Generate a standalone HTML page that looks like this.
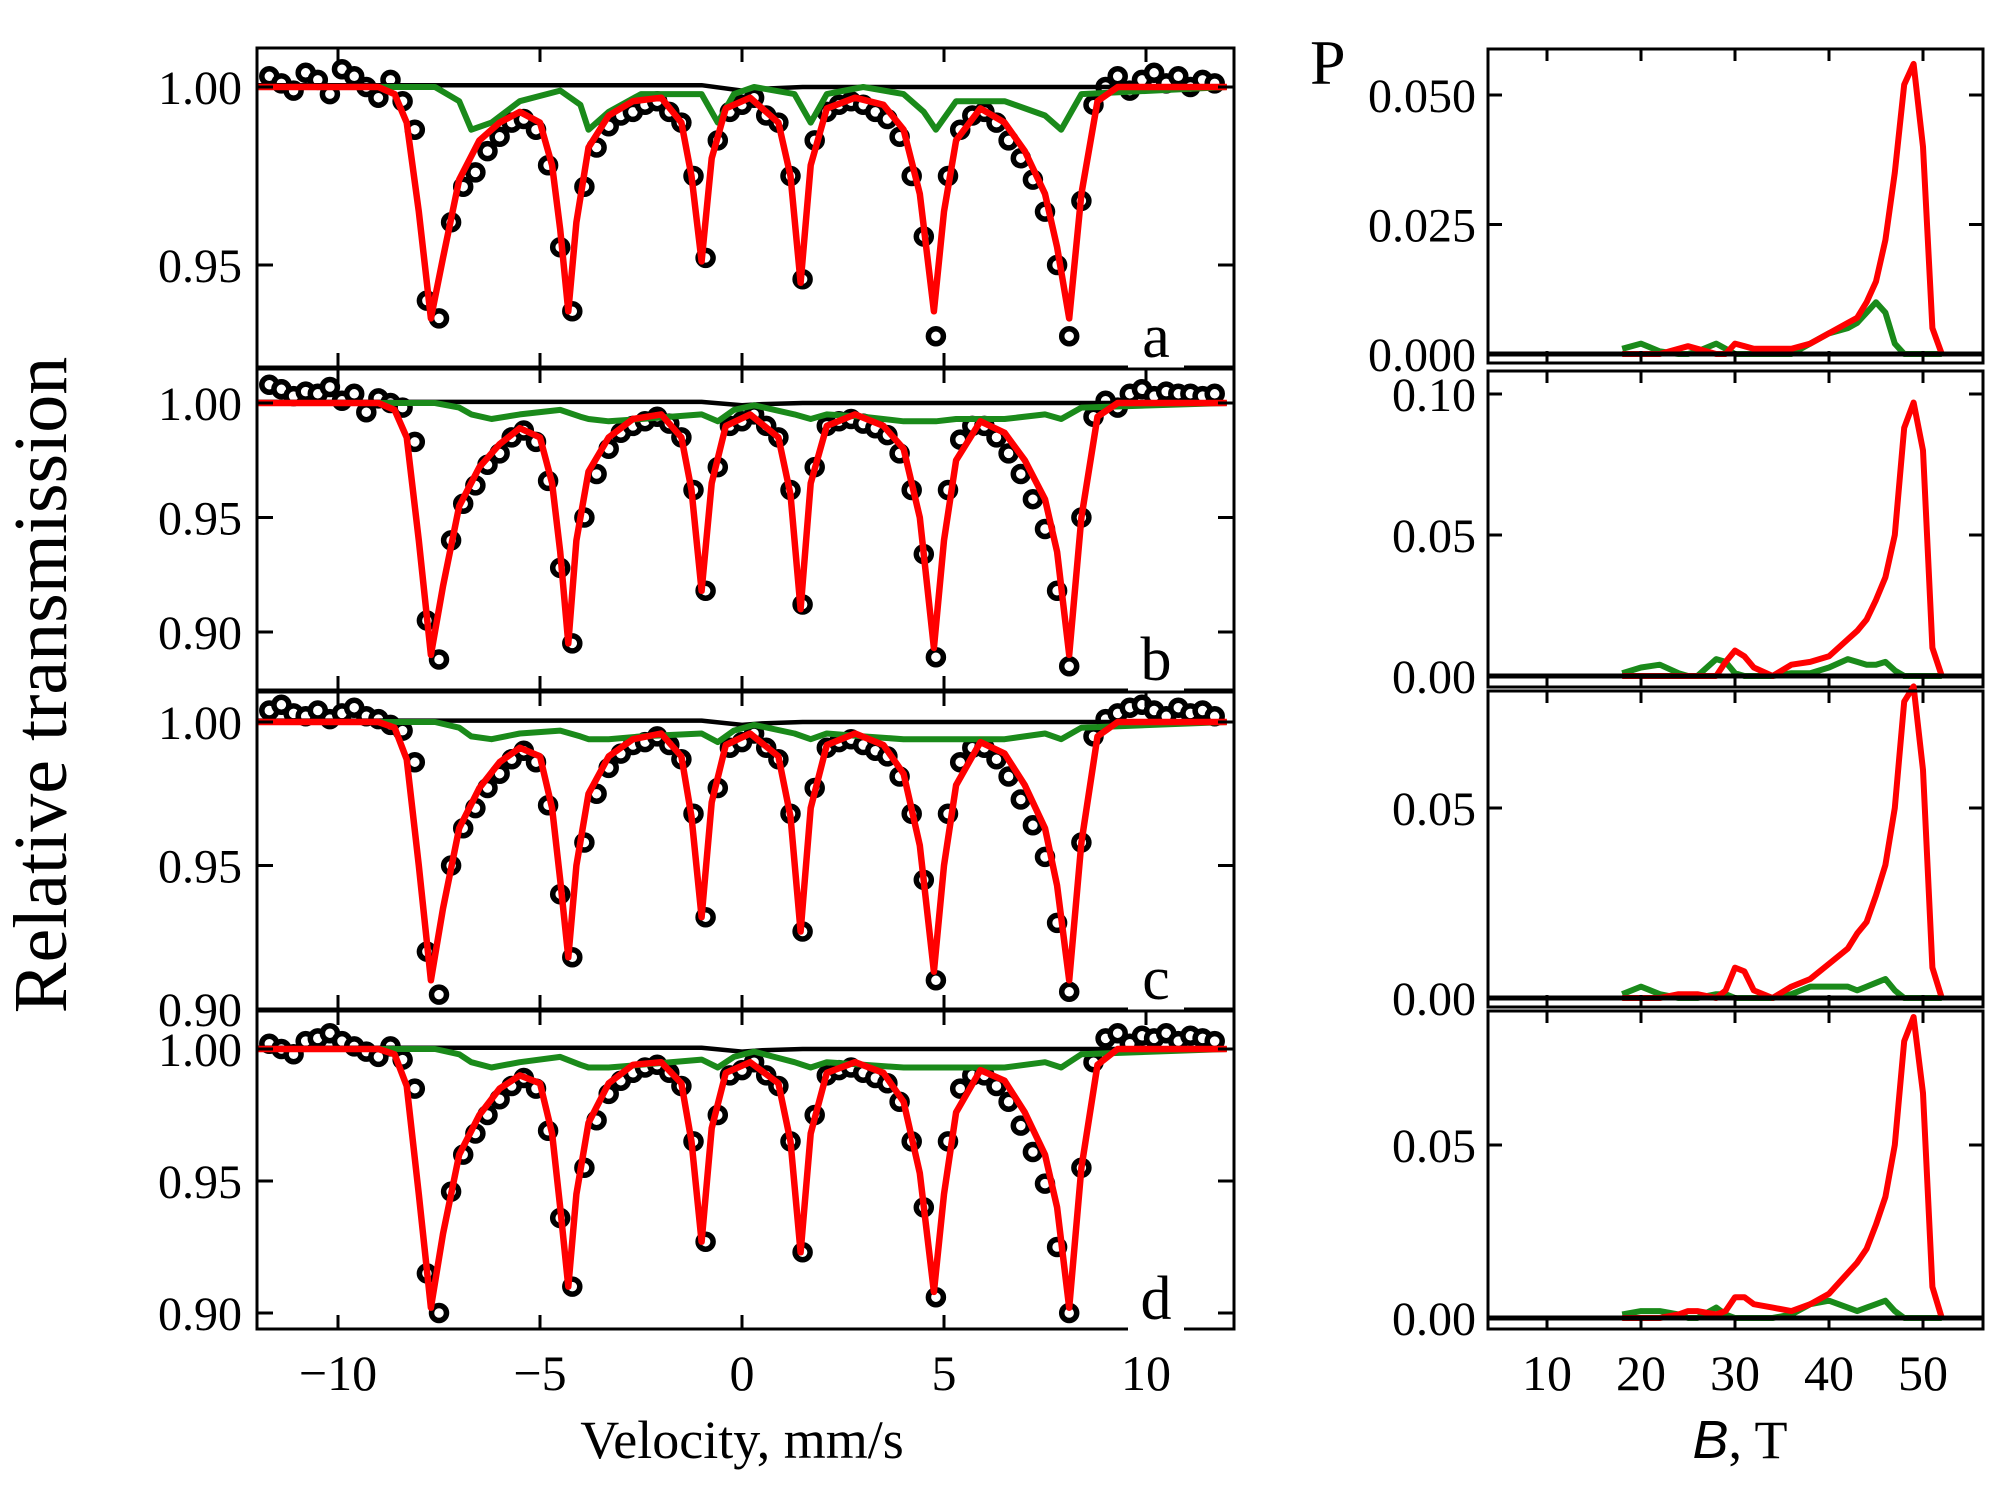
<!DOCTYPE html>
<html><head><meta charset="utf-8"><style>
html,body{margin:0;padding:0;background:#fff}
svg{display:block}
text{font-family:"Liberation Serif",serif;fill:#000}
</style></head><body>
<svg id="chart" width="2006" height="1495" viewBox="0 0 2006 1495" xmlns="http://www.w3.org/2000/svg">
<text x="66" y="685" font-size="76" text-anchor="middle" transform="rotate(-90 66 685)">Relative transmission</text>
<text x="742" y="1458" font-size="54" text-anchor="middle">Velocity, mm/s</text>
<text x="1310" y="84" font-size="64">P</text>
<text x="1740" y="1458" font-size="54" text-anchor="middle"><tspan font-family="Liberation Sans, sans-serif" font-style="italic">B</tspan>, T</text>
</svg>
<script>
const ptX = [];
for (let k = 0; k < 79; k++) ptX.push(-11.7 + 0.3 * k);
const ptA = [1.003,1.001,0.999,1.004,1.002,0.998,1.005,1.003,1.000,0.997,1.002,0.996,0.988,0.940,0.935,0.962,0.972,0.976,0.982,0.986,0.990,0.991,0.988,0.978,0.955,0.937,0.972,0.983,0.989,0.992,0.993,0.995,0.996,0.993,0.990,0.975,0.952,0.985,0.993,0.995,0.997,0.992,0.990,0.975,0.946,0.985,0.993,0.995,0.996,0.995,0.993,0.991,0.986,0.975,0.958,0.930,0.975,0.988,0.992,0.993,0.990,0.985,0.980,0.974,0.965,0.950,0.930,0.968,0.995,1.000,1.003,0.999,1.002,1.004,1.001,1.003,1.000,1.002,1.001];
const ptB = [1.008,1.006,1.003,1.005,1.004,1.007,1.001,1.004,0.996,1.002,1.000,0.998,0.983,0.905,0.888,0.940,0.956,0.964,0.973,0.978,0.985,0.988,0.983,0.966,0.928,0.895,0.950,0.969,0.980,0.987,0.990,0.992,0.994,0.991,0.985,0.962,0.918,0.972,0.990,0.992,0.995,0.990,0.985,0.962,0.912,0.972,0.990,0.992,0.993,0.991,0.989,0.986,0.978,0.962,0.934,0.889,0.962,0.984,0.990,0.990,0.985,0.978,0.969,0.958,0.945,0.918,0.885,0.950,0.994,1.001,0.998,1.004,1.006,1.003,1.005,1.004,1.004,1.003,1.004];
const ptC = [1.004,1.006,1.003,1.002,1.004,1.001,1.003,1.005,1.002,1.001,0.999,0.997,0.986,0.920,0.905,0.950,0.963,0.970,0.977,0.982,0.987,0.990,0.986,0.971,0.940,0.918,0.958,0.975,0.984,0.989,0.992,0.993,0.995,0.992,0.987,0.968,0.932,0.977,0.991,0.993,0.996,0.991,0.987,0.968,0.927,0.977,0.991,0.993,0.994,0.992,0.990,0.988,0.981,0.968,0.945,0.910,0.968,0.986,0.991,0.991,0.987,0.981,0.973,0.964,0.953,0.930,0.906,0.958,0.995,1.001,1.003,1.005,1.006,1.004,1.002,1.005,1.003,1.004,1.002];
const ptD = [1.002,1.000,0.998,1.003,1.004,1.006,1.003,1.001,0.999,0.997,1.001,0.996,0.985,0.915,0.900,0.946,0.960,0.968,0.975,0.981,0.986,0.989,0.985,0.969,0.936,0.910,0.955,0.973,0.983,0.988,0.991,0.993,0.994,0.991,0.986,0.965,0.927,0.975,0.990,0.992,0.995,0.990,0.986,0.965,0.923,0.975,0.990,0.992,0.993,0.991,0.989,0.987,0.980,0.965,0.940,0.906,0.965,0.985,0.990,0.990,0.986,0.980,0.971,0.961,0.949,0.925,0.900,0.955,0.995,1.004,1.006,1.002,1.005,1.004,1.006,1.003,1.005,1.004,1.003];

const fitX = [-12,-9,-8.6,-8.3,-8.0,-7.7,-7.4,-7.0,-6.5,-6.0,-5.5,-5.0,-4.7,-4.5,-4.3,-4.1,-3.8,-3.3,-2.7,-2.0,-1.5,-1.25,-1.0,-0.75,-0.4,0.2,0.9,1.2,1.45,1.7,2.1,2.8,3.5,4.0,4.4,4.75,5.0,5.3,5.9,6.5,7.0,7.5,7.8,8.1,8.4,8.8,9.3,12];
const fitA = [1,1,0.998,0.99,0.965,0.935,0.952,0.974,0.985,0.99,0.993,0.99,0.978,0.96,0.937,0.962,0.983,0.992,0.996,0.997,0.99,0.975,0.951,0.98,0.994,0.997,0.99,0.975,0.945,0.978,0.994,0.997,0.995,0.988,0.97,0.937,0.965,0.985,0.994,0.99,0.982,0.97,0.955,0.935,0.97,0.996,1,1];
const fitB = [1,1,0.997,0.985,0.94,0.89,0.92,0.955,0.972,0.982,0.989,0.985,0.965,0.935,0.895,0.94,0.97,0.985,0.993,0.995,0.985,0.962,0.918,0.965,0.99,0.995,0.985,0.96,0.91,0.965,0.99,0.995,0.99,0.98,0.95,0.893,0.94,0.975,0.992,0.987,0.975,0.958,0.935,0.89,0.95,0.994,1,1];
const fitC = [1,1,0.998,0.987,0.95,0.91,0.935,0.963,0.977,0.986,0.991,0.988,0.97,0.945,0.918,0.95,0.975,0.988,0.994,0.996,0.988,0.967,0.932,0.972,0.992,0.996,0.988,0.967,0.927,0.97,0.992,0.996,0.992,0.982,0.957,0.913,0.95,0.978,0.993,0.989,0.978,0.963,0.943,0.91,0.958,0.995,1,1];
const fitD = [1,1,0.998,0.986,0.945,0.902,0.93,0.96,0.975,0.985,0.99,0.987,0.968,0.94,0.91,0.945,0.972,0.987,0.994,0.995,0.987,0.965,0.927,0.97,0.991,0.995,0.987,0.965,0.923,0.968,0.991,0.995,0.991,0.98,0.953,0.908,0.945,0.976,0.992,0.988,0.976,0.96,0.94,0.902,0.955,0.994,1,1];

const grX = [-12,-7.6,-7.0,-6.7,-6.2,-5.5,-4.5,-4.0,-3.8,-3.3,-2.5,-1.0,-0.6,-0.2,0.3,1.3,1.7,2.1,3.0,4.0,4.5,4.8,5.3,6.5,7.5,7.9,8.4,12];
const grA = [1,1,0.996,0.988,0.99,0.996,0.999,0.995,0.988,0.993,0.998,0.998,0.99,0.998,1.0,0.998,0.99,0.998,1,0.998,0.993,0.988,0.996,0.996,0.992,0.988,0.998,1];
const grB = [1,1,0.998,0.995,0.993,0.995,0.997,0.994,0.993,0.992,0.993,0.995,0.992,0.997,0.999,0.995,0.993,0.995,0.994,0.992,0.992,0.992,0.993,0.993,0.995,0.993,0.998,1];
const grC = [1,1,0.998,0.995,0.994,0.996,0.997,0.995,0.994,0.994,0.995,0.996,0.993,0.997,0.999,0.996,0.994,0.996,0.995,0.994,0.994,0.994,0.994,0.994,0.996,0.994,0.998,1];
const grD = [1,1,0.998,0.995,0.993,0.995,0.997,0.994,0.993,0.993,0.994,0.996,0.993,0.997,0.999,0.995,0.993,0.995,0.994,0.993,0.993,0.993,0.993,0.993,0.995,0.993,0.998,1];

const baseX = [-12,-1,0,0.5,1.5,12];
const baseY = [1.0005,1.0005,0.999,0.9995,1.0,1.0];

const velTicks = [-10,-5,0,5,10];
const velTickLabels = ['\u221210','\u22125','0','5','10'];

const bX = [18,20,22,24,25,26,28,29,30,31,32,34,36,38,40,42,43,44,45,46,47,48,49,50,51,52];
const pRedA = [0,0,0,0.001,0.0015,0.001,0,0,0.002,0.0015,0.001,0.001,0.001,0.002,0.004,0.006,0.007,0.01,0.014,0.022,0.035,0.052,0.056,0.04,0.005,0];
const pGrnA = [0.001,0.002,0.0005,0,0,0.0005,0.002,0.001,0,0,0,0,0,0.002,0.004,0.005,0.006,0.008,0.010,0.008,0.002,0,0,0,0,0];
const pRedB = [0,0,0,0,0,0,0,0.005,0.009,0.007,0.003,0,0.004,0.005,0.007,0.013,0.016,0.02,0.027,0.035,0.05,0.088,0.097,0.08,0.01,0];
const pGrnB = [0.001,0.003,0.004,0.001,0,0,0.006,0.005,0.001,0,0,0,0.001,0.001,0.003,0.006,0.005,0.004,0.004,0.005,0.002,0,0,0,0,0];
const pRedC = [0,0,0,0.001,0.001,0.001,0,0.002,0.008,0.007,0.002,0,0.003,0.005,0.009,0.013,0.017,0.02,0.027,0.035,0.05,0.078,0.082,0.06,0.008,0];
const pGrnC = [0.001,0.003,0.001,0,0,0,0.001,0.001,0,0,0,0,0.001,0.003,0.003,0.003,0.002,0.003,0.004,0.005,0.002,0,0,0,0,0];
const pRedD = [0,0,0,0.001,0.002,0.002,0.001,0.002,0.006,0.006,0.004,0.003,0.002,0.004,0.007,0.013,0.016,0.02,0.027,0.035,0.05,0.08,0.087,0.065,0.009,0];
const pGrnD = [0.001,0.002,0.002,0.001,0,0,0.003,0.001,0,0,0,0,0.001,0.004,0.005,0.003,0.002,0.003,0.004,0.005,0.002,0,0,0,0,0];
const bTicks = [10,20,30,40,50];

const NS = 'http://www.w3.org/2000/svg';
const svg = document.getElementById('chart');
function mk(tag, attrs, parent) {
  const e = document.createElementNS(NS, tag);
  for (const k in attrs) e.setAttribute(k, attrs[k]);
  (parent || svg).appendChild(e);
  return e;
}
const vx = v => 742 + v * 40.4;
const VL = 257, VR = 1234;
const leftPanels = [
  {id:'a', top:48, bot:367, y1:87, k:3560, pts:ptA, fit:fitA, gr:grA, ticks:[1.00,0.95], labels:['1.00','0.95']},
  {id:'b', top:369, bot:690, y1:403, k:2290, pts:ptB, fit:fitB, gr:grB, ticks:[1.00,0.95,0.90], labels:['1.00','0.95','0.90']},
  {id:'c', top:692, bot:1009, y1:722, k:2870, pts:ptC, fit:fitC, gr:grC, ticks:[1.00,0.95,0.90], labels:['1.00','0.95','0.90']},
  {id:'d', top:1011, bot:1329, y1:1049, k:2640, pts:ptD, fit:fitD, gr:grD, ticks:[1.00,0.95,0.90], labels:['1.00','0.95','0.90']}
];
leftPanels.forEach(p => {
  const g = mk('g', {});
  
  
  const vy = v => p.y1 + (1 - v) * p.k;
  const cp = mk('clipPath', {id:'clip' + p.id}, g);
  mk('rect', {x:VL, y:p.top, width:VR - VL, height:p.bot - p.top}, cp);
  const data = mk('g', {'clip-path':'url(#clip' + p.id + ')'}, g);
  for (let i = 0; i < ptX.length; i++) {
    const c = mk('circle', {cx:vx(ptX[i]).toFixed(1), cy:vy(p.pts[i]).toFixed(1), r:7.5, fill:'#fff', stroke:'#000', 'stroke-width':5.5}, data);
    
    
  }
  const line = (xs, ys, col, w, name) => {
    const d = xs.map((x, i) => (i ? 'L' : 'M') + vx(x).toFixed(1) + ',' + vy(ys[i]).toFixed(1)).join('');
    const e = mk('path', {d:d, fill:'none', stroke:col, 'stroke-width':w, 'stroke-linejoin':'round'}, data);
    
    
  };
  line(baseX, baseY, '#000', 4.5, 'baseline-curve');
  line(grX, p.gr, '#1a8a1a', 6, 'green-subspectrum');
  line(fitX, p.fit, '#ff0000', 6.5, 'red-fit-curve');
  const fr = mk('rect', {x:VL, y:p.top, width:VR - VL, height:p.bot - p.top, fill:'none', stroke:'#000', 'stroke-width':3}, g);
  
  
  velTicks.forEach(t => {
    mk('line', {x1:vx(t), x2:vx(t), y1:p.top, y2:p.top + 14, stroke:'#000', 'stroke-width':3}, g);
    mk('line', {x1:vx(t), x2:vx(t), y1:p.bot, y2:p.bot - 14, stroke:'#000', 'stroke-width':3}, g);
  });
  p.ticks.forEach((t, i) => {
    const y = vy(t);
    mk('line', {x1:VL, x2:VL + 16, y1:y, y2:y, stroke:'#000', 'stroke-width':3}, g);
    mk('line', {x1:VR, x2:VR - 16, y1:y, y2:y, stroke:'#000', 'stroke-width':3}, g);
    const tx = mk('text', {x:242, y:y + 17, 'font-size':48, 'text-anchor':'end'}, g);
    tx.textContent = p.labels[i];
    
    
  });
  mk('rect', {x:1128, y:p.bot - 54, width:56, height:58, fill:'#fff'}, g);
  const lt = mk('text', {x:1156, y:p.bot - 10, 'font-size':62, 'text-anchor':'middle'}, g);
  lt.textContent = p.id;
  
  
});
velTicks.forEach((t, i) => {
  const tx = mk('text', {x:vx(t), y:1390, 'font-size':50, 'text-anchor':'middle'});
  tx.textContent = velTickLabels[i];
  
  
});

const bx = b => 1547 + (b - 10) * 9.4;
const RL = 1488, RR = 1983;
const rightPanels = [
  {id:'a', top:49, bot:363, z:354, k:5180, red:pRedA, gr:pGrnA, ticks:[0,0.025,0.05], labels:['0.000','0.025','0.050']},
  {id:'b', top:371, bot:687, z:676, k:2820, red:pRedB, gr:pGrnB, ticks:[0,0.05,0.10], labels:['0.00','0.05','0.10']},
  {id:'c', top:691, bot:1007, z:998, k:3800, red:pRedC, gr:pGrnC, ticks:[0,0.05], labels:['0.00','0.05']},
  {id:'d', top:1011, bot:1329, z:1318, k:3460, red:pRedD, gr:pGrnD, ticks:[0,0.05], labels:['0.00','0.05']}
];
rightPanels.forEach(p => {
  const g = mk('g', {});
  
  
  const py = v => p.z - v * p.k;
  const line = (ys, col, name) => {
    const d = bX.map((b, i) => (i ? 'L' : 'M') + bx(b).toFixed(1) + ',' + py(ys[i]).toFixed(1)).join('');
    const e = mk('path', {d:d, fill:'none', stroke:col, 'stroke-width':6, 'stroke-linejoin':'round'}, g);
    
    
  };
  line(p.gr, '#1a8a1a', 'green-distribution');
  line(p.red, '#ff0000', 'red-distribution');
  const zl = mk('line', {x1:RL, x2:RR, y1:p.z, y2:p.z, stroke:'#000', 'stroke-width':5}, g);
  
  
  const fr = mk('rect', {x:RL, y:p.top, width:RR - RL, height:p.bot - p.top, fill:'none', stroke:'#000', 'stroke-width':3}, g);
  
  
  bTicks.forEach(t => {
    mk('line', {x1:bx(t), x2:bx(t), y1:p.top, y2:p.top + 12, stroke:'#000', 'stroke-width':3}, g);
    mk('line', {x1:bx(t), x2:bx(t), y1:p.bot, y2:p.bot - 12, stroke:'#000', 'stroke-width':3}, g);
  });
  p.ticks.forEach((t, i) => {
    const y = py(t);
    mk('line', {x1:RL, x2:RL + 14, y1:y, y2:y, stroke:'#000', 'stroke-width':3}, g);
    mk('line', {x1:RR, x2:RR - 14, y1:y, y2:y, stroke:'#000', 'stroke-width':3}, g);
    const tx = mk('text', {x:1476, y:y + 17, 'font-size':48, 'text-anchor':'end'}, g);
    tx.textContent = p.labels[i];
    
    
  });
});
bTicks.forEach(t => {
  const tx = mk('text', {x:bx(t), y:1390, 'font-size':50, 'text-anchor':'middle'});
  tx.textContent = String(t);
  
  
});
</script>
</body></html>
